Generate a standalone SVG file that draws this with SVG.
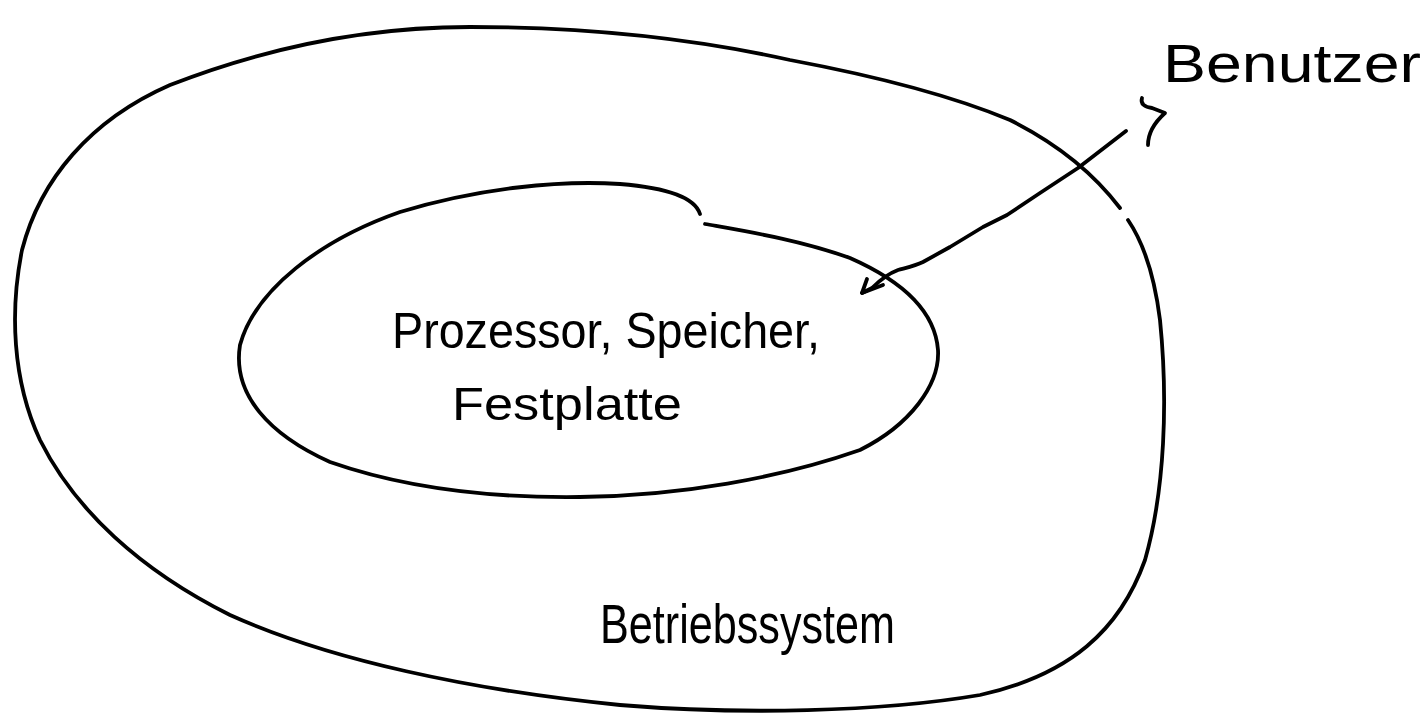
<svg xmlns="http://www.w3.org/2000/svg" width="1428" height="717" viewBox="0 0 1428 717">
<style>
.ink{fill:none;stroke:#000;stroke-width:3.8;stroke-linecap:round;stroke-linejoin:round}
.t{font-family:"Liberation Sans","DejaVu Sans",sans-serif;fill:#000}
</style>
<rect width="1428" height="717" fill="#fff"/>
<g id="outer">
<path class="ink" d="M1120,208 C1095,175 1060,145 1010,120 C950,95 870,75 790,60 C700,40 600,27 470,27 C360,27 260,50 170,85 C90,120 40,180 22,250 C10,310 12,380 40,440 C75,510 140,570 230,615 C330,660 470,690 620,705 C740,715 880,712 980,695 C1070,675 1120,630 1145,560 C1165,490 1168,400 1160,320 C1155,280 1145,245 1128,220"/>
<text class="t" x="600" y="643" font-size="56" textLength="295" lengthAdjust="spacingAndGlyphs">Betriebssystem</text>
</g>
<g id="inner">
<path class="ink" d="M700,214 C695,198 670,188 620,184 C560,180 480,188 400,212 C320,240 255,290 240,345 C232,395 270,435 330,462 C410,490 500,498 580,497 C680,496 780,478 860,450 C910,425 940,385 938,350 C935,310 900,280 850,258 C800,240 750,232 705,224"/>
<text class="t" x="392" y="348" font-size="50" textLength="428" lengthAdjust="spacingAndGlyphs">Prozessor, Speicher,</text>
<text class="t" x="452" y="420" font-size="46" textLength="230" lengthAdjust="spacingAndGlyphs">Festplatte</text>
</g>
<g id="user">
<text class="t" x="1163" y="82" font-size="54" textLength="258" lengthAdjust="spacingAndGlyphs">Benutzer</text>
<path class="ink" d="M1142,98 C1140,104 1145,107 1152,108 L1165,113 C1155,122 1148,132 1148,145"/>
</g>
<g id="connectors">
<path class="ink" d="M1126,131 L1078,168 L1040,193 L1007,215 L983,227 L950,247 L923,262 C915,266 905,268 898,270 C890,273 880,280 872,288 L862,293"/>
<path class="ink" d="M867,279 L862,293 L883,285"/>
</g>
</svg>
